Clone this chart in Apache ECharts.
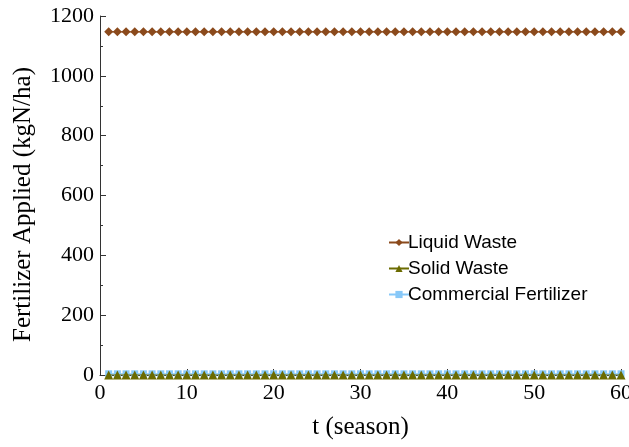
<!DOCTYPE html>
<html>
<head>
<meta charset="utf-8">
<script src="https://cdn.jsdelivr.net/npm/echarts@6/dist/echarts.min.js"></script>
<style>
html,body{margin:0;padding:0;background:#fff;}
#chart{width:629px;height:447px;}
</style>
</head>
<body>
<div id="chart"></div>
<script>
// Seasons 1..60
const seasons = [1,2,3,4,5,6,7,8,9,10,11,12,13,14,15,16,17,18,19,20,21,22,23,24,25,26,27,28,29,30,31,32,33,34,35,36,37,38,39,40,41,42,43,44,45,46,47,48,49,50,51,52,53,54,55,56,57,58,59,60];
// Fertilizer applied per season (kgN/ha)
const liquidWaste = [1147,1147,1147,1147,1147,1147,1147,1147,1147,1147,1147,1147,1147,1147,1147,1147,1147,1147,1147,1147,1147,1147,1147,1147,1147,1147,1147,1147,1147,1147,1147,1147,1147,1147,1147,1147,1147,1147,1147,1147,1147,1147,1147,1147,1147,1147,1147,1147,1147,1147,1147,1147,1147,1147,1147,1147,1147,1147,1147,1147];
const solidWaste = [0,0,0,0,0,0,0,0,0,0,0,0,0,0,0,0,0,0,0,0,0,0,0,0,0,0,0,0,0,0,0,0,0,0,0,0,0,0,0,0,0,0,0,0,0,0,0,0,0,0,0,0,0,0,0,0,0,0,0,0];
const commercialFertilizer = [4,4,4,4,4,4,4,4,4,4,4,4,4,4,4,4,4,4,4,4,4,4,4,4,4,4,4,4,4,4,4,4,4,4,4,4,4,4,4,4,4,4,4,4,4,4,4,4,4,4,4,4,4,4,4,4,4,4,4,4];
const seriesNames = ['Liquid Waste','Solid Waste','Commercial Fertilizer'];

const pairs = (ys) => seasons.map((x, i) => [x, ys[i]]);

const chart = echarts.init(document.getElementById('chart'), null, {renderer: 'canvas'});
const serif = 'Liberation Serif, Times New Roman, serif';
const sans = 'Liberation Sans, Arial, sans-serif';

chart.setOption({
  animation: false,
  backgroundColor: '#ffffff',
  grid: {left: 100, right: 8, top: 16, bottom: 72, containLabel: false, outerBoundsMode: 'none'},
  legend: {
    data: seriesNames,
    orient: 'vertical',
    left: 383,
    top: 228,
    itemWidth: 20,
    itemHeight: 9,
    itemGap: 7,
    textStyle: {fontFamily: sans, fontSize: 19, color: '#000', padding: [0,0,0,-6]}
  },
  xAxis: {
    type: 'value',
    min: 0, max: 60, interval: 10,
    name: 't (season)',
    nameLocation: 'middle',
    nameGap: 40,
    nameTextStyle: {fontFamily: serif, fontSize: 25, color: '#000'},
    axisLine: {onZero: false, lineStyle: {color: '#333', width: 1}},
    axisTick: {inside: true, length: 6, lineStyle: {color: '#333'}},
    minorTick: {show: true, splitNumber: 2, length: 3, lineStyle: {color: '#333'}},
    axisLabel: {fontFamily: serif, fontSize: 22, color: '#000', margin: 7},
    splitLine: {show: false}
  },
  yAxis: {
    type: 'value',
    min: 0, max: 1200, interval: 200,
    name: 'Fertilizer Applied (kgN/ha)',
    nameLocation: 'middle',
    nameGap: 64,
    nameRotate: 90,
    nameTextStyle: {fontFamily: serif, fontSize: 25, color: '#000', padding: [0, 18, 0, 0]},
    axisLine: {show: true, lineStyle: {color: '#333', width: 1}},
    axisTick: {show: true, inside: true, length: 6, lineStyle: {color: '#333'}},
    minorTick: {show: true, splitNumber: 2, length: 3, lineStyle: {color: '#333'}},
    axisLabel: {fontFamily: serif, fontSize: 22, color: '#000', margin: 6, formatter: (v) => String(v)},
    splitLine: {show: false}
  },
  series: [
    {
      name: seriesNames[0], type: 'line', data: pairs(liquidWaste),
      symbol: 'diamond', symbolSize: 9, z: 3,
      itemStyle: {color: '#8b4a1c'}, lineStyle: {color: '#8b4a1c', width: 1.2}
    },
    {
      name: seriesNames[1], type: 'line', data: pairs(solidWaste),
      symbol: 'triangle', symbolSize: 9, z: 4,
      itemStyle: {color: '#6b6b00'}, lineStyle: {color: '#6b6b00', width: 1.2}
    },
    {
      name: seriesNames[2], type: 'line', data: pairs(commercialFertilizer),
      symbol: 'rect', symbolSize: 7, z: 2,
      itemStyle: {color: '#87c8f8'}, lineStyle: {color: '#87c8f8', width: 1.2}
    }
  ]
});
</script>
</body>
</html>
